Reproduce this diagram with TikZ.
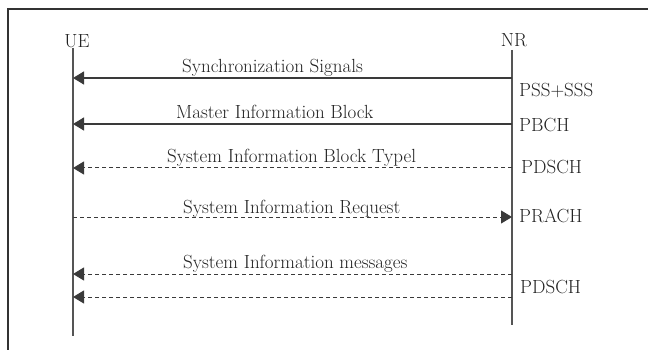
\documentclass[tikz,border=0pt]{standalone}
\usepackage{fontspec}
\usetikzlibrary{arrows.meta}
\definecolor{framec}{HTML}{333333}
\definecolor{lifec}{HTML}{555555}
\definecolor{msgc}{HTML}{3A3A3A}
\definecolor{txtc}{HTML}{222222}
\tikzset{
  frameline/.style={draw=framec,line width=1.5pt},
  lifeline/.style={draw=lifec,line width=1.1pt},
  solidmsg/.style={draw=msgc,line width=1.3pt,-{Triangle[length=11pt,width=13pt]}},
  dashmsg/.style={draw=msgc,line width=1pt,dash pattern=on 4pt off 3pt,-{Triangle[length=11pt,width=13pt]}},
  dashplain/.style={draw=msgc,line width=1pt,dash pattern=on 4pt off 3pt},
  lbl/.style={inner sep=0pt,anchor=base west,text=txtc,font=\fontsize{19}{22}\selectfont},
  actor/.style={inner sep=0pt,anchor=base,text=txtc,font=\fontsize{19}{22}\selectfont}
}
\begin{document}
\begin{tikzpicture}[x=1pt,y=-1pt]
\useasboundingbox (0,0) rectangle (648,350);
% frame (top and left edges)
\coordinate (fl) at (8,350);
\coordinate (fc) at (8,9);
\coordinate (fr) at (648,9);
\draw[frameline] (fl) -- (fc) -- (fr);
% actors
\node[actor] (ue) at (77,48) {UE};
\node[actor] (nr) at (514,47) {NR};
\coordinate (uetop) at (73,48);
\coordinate (uebot) at (73,336);
\coordinate (nrtop) at (512,50);
\coordinate (nrbot) at (512,325);
\draw[lifeline] (uetop) -- (uebot);
\draw[lifeline] (nrtop) -- (nrbot);
% message points
\foreach \n/\y in {1/78,2/124,3/168,4/217,5/274,6/297}{
  \coordinate (u\n) at (73,\y);
  \coordinate (r\n) at (512,\y);
}
\draw[solidmsg] (r1) -- (u1);
\draw[solidmsg] (r2) -- (u2);
\draw[dashmsg] (r3) -- (u3);
\draw[dashmsg] (u4) -- (r4);
\draw[dashmsg] (r5) -- (u5);
\draw[dashmsg] (r6) -- (u6);
% message labels
\node[lbl] (m1) at (182,73) {Synchronization Signals};
\node[lbl] (m2) at (176,119) {Master Information Block};
\node[lbl] (m3) at (167,163) {System Information Block Typel};
\node[lbl] (m4) at (183,213) {System Information Request};
\node[lbl] (m5) at (183,268) {System Information messages};
% channel labels
\node[lbl] (c1) at (519,97) {PSS+SSS};
\node[lbl] (c2) at (519,132) {PBCH};
\node[lbl] (c3) at (521,173) {PDSCH};
\node[lbl] (c4) at (519,222) {PRACH};
\node[lbl] (c5) at (520,293) {PDSCH};
\end{tikzpicture}
\end{document}
